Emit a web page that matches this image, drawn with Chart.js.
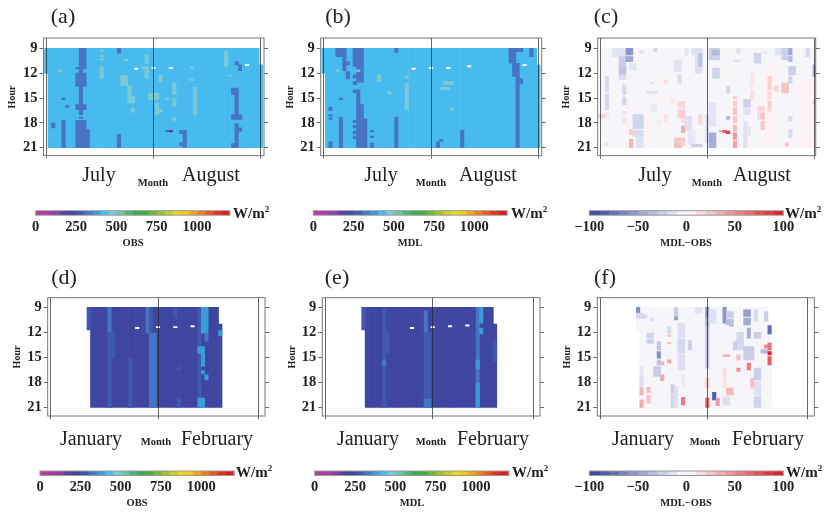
<!DOCTYPE html>
<html>
<head>
<meta charset="utf-8">
<title>Hourly radiation panels</title>
<script src="https://cdn.jsdelivr.net/npm/chart.js@4"></script>
<style>
  html, body { margin: 0; padding: 0; background: #fff; }
  #page { position: relative; width: 825px; height: 513px; overflow: hidden; font-family: "Liberation Serif", serif; color: #222; filter: blur(0.4px); }
  canvas { position: absolute; }
  .txt { position: absolute; white-space: nowrap; transform: translate(-50%, -50%); line-height: 1; }
  .paren { font-size: 22px; }
  .month { font-size: 20px; }
  .small { font-size: 10.5px; font-weight: bold; }
  .hour { font-size: 10px; font-weight: bold; transform: translate(-50%, -50%) rotate(-90deg); }
  .unit { font-size: 15px; font-weight: bold; transform: translate(0, -50%); }
  .unit sup { font-size: 9px; line-height: 0; }
</style>
</head>
<body>
<div id="page"></div>
<script>
// --- data ---
const hourTicks = [9, 12, 15, 18, 21];
const obsTicks = [0, 250, 500, 750, 1000];
const diffTicks = [-100, -50, 0, 50, 100];
const summerMonths = ['July', 'August'];
const winterMonths = ['January', 'February'];
const summerBounds = [0, 31, 62];
const winterBounds = [0, 31, 60];
const WHITE = null; // missing sample

// each cell block: [firstDay, lastDay, fromHour, toHour, value]
const julyObs = [
  [1, 61, 9, 21, 425], [0, 0, 9, 12, 425], [62, 62, 11, 21, 425],
  [10, 11, 9, 11.2, 325], [9, 11, 11.3, 11.5, 325], [9, 11, 12, 13.6, 325], [10, 10, 11.5, 12, 325],
  [10, 10, 13.6, 15.7, 325], [9, 11, 15.8, 16.4, 325], [10, 10, 16.4, 17, 325], [10, 10, 17.3, 17.5, 325],
  [9, 11, 17.7, 18.8, 325], [9, 12, 18.8, 21, 325],
  [5, 5, 17.7, 21, 325], [2, 2, 18, 18.6, 325], [5, 5, 15, 15.2, 325], [6, 6, 15.9, 16.1, 325],
  [21, 21, 9, 9.6, 325], [21, 21, 19.4, 21, 325],
  [16, 16, 11.2, 12.6, 475], [16, 16, 9.2, 9.4, 475], [16, 16, 9.8, 10, 475], [16, 16, 10.2, 10.4, 475],
  [22, 23, 12.3, 13.5, 475], [24, 24, 13.5, 14.8, 475], [24, 25, 14.8, 15.6, 475], [25, 25, 16.2, 16.7, 475],
  [29, 29, 9.8, 10.8, 475], [29, 29, 11.2, 12.6, 475], [28, 29, 11.2, 11.4, 475], [23, 23, 10.3, 10.5, 475],
  [30, 32, 14.4, 15.2, 475], [32, 32, 15.6, 17, 475], [33, 33, 16.4, 16.7, 475], [33, 33, 12.2, 13, 475],
  [37, 37, 13.2, 14.6, 475], [37, 37, 15, 16, 475], [35, 35, 15, 15.2, 475], [37, 37, 17.3, 17.7, 475],
  [43, 43, 13.7, 17, 475], [42, 42, 11.2, 11.4, 475], [42, 42, 12.7, 12.9, 475],
  [52, 52, 9.3, 11.2, 475], [53, 53, 12.2, 12.4, 475], [4, 4, 11.6, 11.8, 475],
  [26, 26, 11.4, 11.55, WHITE], [31, 31, 11.3, 11.45, WHITE], [36, 36, 11.3, 11.45, WHITE], [58, 58, 10.95, 11.1, WHITE],
  [39, 40, 18.9, 19.3, 325], [40, 40, 19.3, 21, 325], [39, 39, 20.4, 20.8, 325],
  [35, 35, 18.9, 19.1, 325], [36, 36, 18.9, 19.1, 175],
  [55, 55, 10.6, 11, 325], [56, 56, 11, 11.7, 325], [54, 55, 13.8, 14.6, 325], [55, 55, 14.6, 17, 325],
  [54, 56, 17, 17.6, 325], [55, 55, 18.1, 20.5, 325], [56, 56, 18.6, 19, 325], [54, 55, 20.5, 21, 325]
];
const julyMdl = [
  [1, 61, 9, 21, 425], [0, 0, 9, 12, 425], [62, 62, 11, 21, 425],
  [4, 6, 9, 10, 325], [6, 6, 10, 11.7, 325], [7, 7, 10.6, 11, 325], [7, 7, 11.8, 12.7, 325],
  [9, 11, 9, 11.2, 325], [10, 11, 11.2, 13.1, 325], [9, 10, 12.2, 12.6, 325], [9, 9, 13, 13.4, 325],
  [9, 10, 14.0, 14.4, 325], [10, 10, 14.4, 17.5, 325], [11, 11, 15.8, 17.4, 325],
  [10, 12, 17.5, 21, 325], [9, 9, 17.7, 18, 325], [9, 9, 18.3, 18.6, 325], [9, 9, 19, 19.3, 325], [9, 9, 19.6, 19.9, 325],
  [5, 5, 17.3, 21, 325], [5, 5, 15, 15.2, 325], [2, 2, 16.1, 16.5, 325], [2, 2, 20.3, 21, 325],
  [2, 2, 17, 17.2, 325], [2, 2, 17.4, 17.6, 325],
  [14, 14, 18.9, 19.1, 325], [14, 14, 19.6, 19.8, 325], [14, 14, 20.4, 21, 325],
  [21, 21, 9, 9.5, 325], [21, 21, 17.3, 21, 325],
  [33, 33, 20.3, 21, 325], [34, 34, 20, 20.2, 325], [40, 40, 18.9, 21, 325],
  [54, 57, 9, 9.4, 325], [54, 55, 9.4, 10.8, 325], [55, 56, 10.8, 12.4, 325], [56, 56, 12.4, 21, 325], [57, 57, 12.7, 13.3, 325],
  [60, 60, 9, 10, 325],
  [24, 24, 13.2, 16.4, 475], [24, 24, 12.3, 12.6, 475], [16, 16, 12.2, 13, 475], [19, 19, 14.2, 14.5, 475],
  [35, 37, 13, 13.4, 475], [34, 36, 13.7, 14, 475], [37, 37, 16.2, 16.5, 475],
  [26, 26, 11.4, 11.55, WHITE], [31, 31, 11.3, 11.45, WHITE], [36, 36, 11.3, 11.45, WHITE], [42, 42, 11.1, 11.25, WHITE],
  [58, 58, 10.95, 11.1, WHITE], [4, 4, 11.6, 11.8, 475], [10, 10, 11.6, 11.8, 475]
];
const julyDiff = [
  [1, 62, 9, 21, -5],
  [8, 8, 12, 21, 6], [14, 14, 15, 21, 5], [18, 18, 12, 21, 5], [38, 38, 9, 21, 5], [48, 50, 11, 21, 5], [58, 62, 13, 21, 5],
  [4, 7, 9, 10, -14], [6, 7, 10, 11.2, -26], [6, 7, 11.2, 12.2, -30], [6, 7, 12.2, 12.8, -18],
  [8, 9, 9, 9.8, -55], [8, 9, 10, 10.6, -45], [9, 10, 10.8, 11.6, -14], [12, 12, 9.2, 9.6, -15],
  [2, 2, 12.4, 14.2, -18], [2, 2, 14.5, 16.4, -20], [2, 2, 16.8, 17.2, -10],
  [7, 7, 13.4, 14.6, -20], [7, 7, 14.9, 15.8, -22], [7, 7, 16.6, 17, -12], [7, 7, 17.4, 18, -12],
  [10, 12, 17, 18.7, -22], [10, 12, 18.9, 19.6, -18], [11, 12, 19.6, 21, -15],
  [16, 16, 9, 9.4, -20], [15, 16, 15.8, 16.6, -10], [15, 15, 13.1, 13.3, -14], [14, 16, 14.2, 14.5, -14],
  [22, 23, 10.4, 11.8, -14], [23, 23, 12.2, 13.2, -18], [25, 25, 9, 9.8, -14],
  [25, 26, 17.2, 18.9, -16], [26, 27, 18.9, 20.6, -12],
  [28, 29, 9, 12, -16], [29, 29, 9.6, 11.2, -32], [27, 27, 9, 9.8, -15], [27, 29, 20.6, 20.9, -24],
  [31, 31, 17, 20.4, -18], [32, 33, 19.2, 21, -42], [32, 34, 9, 10.4, -24], [33, 34, 9.2, 9.8, -36],
  [33, 34, 11.4, 12.6, -22], [32, 33, 15.6, 18.4, -14],
  [37, 37, 13.6, 14.4, -20], [37, 37, 17.2, 17.6, -35], [40, 40, 9, 9.6, -15], [39, 40, 10.4, 10.6, -15],
  [42, 43, 15.2, 16.1, -24], [42, 43, 16.3, 17, -16], [42, 42, 17.8, 21, -15], [43, 43, 18.4, 19.6, -12],
  [45, 46, 9.6, 10.8, -22], [47, 48, 9.4, 9.6, -12], [50, 50, 13.8, 14, -12],
  [51, 52, 9, 9.8, -15], [53, 54, 9, 10.4, -24], [55, 55, 9, 9.8, -46], [55, 55, 10, 10.6, -36],
  [55, 56, 11.2, 12.2, -24], [55, 55, 12.4, 13.2, -22], [55, 55, 17.2, 17.8, -18], [55, 55, 18.8, 19.8, -18],
  [60, 60, 9, 10, -20], [62, 62, 11, 12.4, -40], [62, 62, 15.4, 15.7, -20],
  [9, 9, 18.8, 19.4, 22], [9, 9, 20, 21, 32], [1, 1, 17, 17.4, 20], [0, 0, 17, 17.4, 18], [2, 2, 20.4, 20.7, 14],
  [39, 39, 14.8, 15.1, 20], [39, 39, 15.4, 16, 22], [39, 39, 16.2, 17, 26], [39, 39, 17.2, 18, 24], [39, 39, 18.3, 19, 28],
  [39, 39, 19.2, 20, 44], [39, 39, 20.2, 21, 40],
  [23, 24, 15.4, 16.2, 16], [23, 24, 16.4, 17.4, 20], [24, 24, 17.5, 18, 16], [24, 24, 18.4, 19.2, 34],
  [22, 24, 19.8, 20.3, 24], [22, 23, 20.4, 21, 28], [24, 24, 20.2, 20.8, 18],
  [29, 29, 17, 18.2, 18], [19, 19, 12.8, 13.2, 15], [19, 19, 17, 17.8, 12], [21, 21, 15, 15.6, 10], [17, 17, 17.8, 18.2, 10],
  [49, 49, 12.4, 14, 20], [49, 49, 14.2, 15.2, 16], [49, 49, 15.4, 16.6, 20], [46, 46, 16, 17.6, 16], [47, 47, 16, 16.6, 18],
  [47, 47, 16.8, 17.6, 26], [47, 47, 17.8, 18.8, 24],
  [53, 54, 13.2, 14.4, 26], [51, 51, 13.6, 14.2, 20], [54, 54, 20.4, 20.8, 25], [44, 44, 12, 13.6, 12], [44, 44, 14, 15.2, 14],
  [35, 35, 18.9, 19.1, 40], [36, 36, 18.9, 19.2, 70], [37, 37, 19, 19.3, 85]
];
const janObs = [
  [12, 48, 9, 21, 225], [11, 11, 9, 11.7, 260], [49, 49, 11, 21, 225],
  [17, 17, 9, 12, 320], [17, 17, 12, 21, 280], [18, 18, 12, 15.1, 270],
  [28, 28, 9, 12.1, 310], [29, 30, 12.1, 21, 300], [29, 29, 9, 12.1, 270],
  [23, 23, 15.1, 21, 265], [36, 36, 9, 10.3, 265], [37, 37, 16.2, 16.5, 265], [37, 37, 19.9, 21, 265],
  [43, 43, 9, 21, 275], [44, 45, 9, 12.1, 380], [45, 45, 12.1, 13.1, 300],
  [43, 44, 13.7, 14.5, 380], [44, 44, 14.5, 16.1, 375], [44, 44, 16.6, 17, 380], [45, 45, 17.1, 17.7, 380],
  [43, 44, 19.9, 21, 375], [49, 49, 11.8, 12.4, 390],
  [25, 25, 11.4, 11.55, WHITE], [31, 31, 11.3, 11.45, WHITE], [36, 36, 11.3, 11.45, WHITE], [41, 41, 11.2, 11.35, WHITE]
];
const janMdl = [
  [12, 48, 9, 21, 225], [11, 11, 9, 11.7, 260], [49, 49, 11, 21, 225],
  [17, 17, 9, 21, 280], [17, 17, 15.3, 16, 320], [18, 18, 11.9, 14.5, 270],
  [29, 29, 9.4, 12, 320], [29, 30, 12, 21, 290], [29, 30, 20, 21, 320],
  [44, 44, 9, 21, 310], [45, 45, 9, 10.9, 370], [44, 44, 15.3, 16.4, 370], [44, 44, 18.1, 21, 370], [45, 45, 11.5, 12.2, 370],
  [49, 49, 13, 15.5, 270],
  [25, 25, 11.4, 11.55, WHITE], [31, 31, 11.3, 11.45, WHITE], [36, 36, 11.2, 11.35, WHITE], [41, 41, 11.1, 11.25, WHITE]
];
const janDiff = [
  [12, 48, 9, 21, -5], [11, 11, 9, 11.7, -5], [49, 49, 11, 21, -5],
  [11, 11, 9, 9.7, -60], [11, 12, 9.7, 10.3, -20], [12, 12, 16.1, 17, -14], [12, 12, 17.2, 18.7, -16],
  [14, 15, 12.1, 12.7, -22], [14, 15, 12.9, 13.3, -26], [17, 17, 13.1, 14.1, -30], [17, 17, 14.3, 15.1, -58], [17, 17, 15.3, 15.9, -30],
  [16, 17, 16.1, 17.3, -26], [13, 13, 9.9, 10.3, -18], [15, 15, 10.2, 10.6, -14],
  [21, 21, 18.3, 19.3, -26], [21, 21, 19.5, 21, -22], [22, 22, 9, 10, -26], [22, 22, 10.1, 10.5, -50], [20, 20, 11.3, 12.1, -20],
  [23, 24, 10.9, 12.6, -16], [23, 24, 12.8, 14.5, -20], [23, 24, 14.7, 16.5, -16], [22, 22, 18.5, 21, -16], [24, 24, 17, 18.5, -10],
  [26, 26, 13, 14.1, -25], [28, 29, 9, 9.7, -15],
  [31, 31, 9, 10.2, -55], [31, 31, 10.2, 11.3, -42], [31, 31, 11.3, 16.3, -30], [32, 33, 9.3, 10.9, -15],
  [33, 33, 19.2, 20.1, -85], [36, 36, 9, 10.9, -55], [37, 38, 9.5, 10.2, -26], [37, 38, 10.4, 11.1, -34], [38, 38, 10.7, 11.3, -35],
  [40, 41, 12, 14.1, -20], [39, 39, 13.1, 14.1, -25], [42, 43, 9.3, 10.1, -50], [42, 43, 10.3, 11.1, -44], [43, 43, 11.5, 12.7, -42],
  [42, 44, 13.7, 15.3, -26], [45, 46, 16.3, 17.7, -24], [45, 46, 17.9, 19.5, -16], [45, 46, 19.7, 21, -22],
  [45, 45, 9.3, 10.7, -18], [45, 46, 12, 12.7, -25],
  [48, 48, 9.5, 10.7, -25], [47, 48, 14.1, 14.5, -35], [49, 49, 11.2, 12.2, -75], [36, 37, 19.7, 20.7, -16],
  [12, 12, 18.7, 19.5, 32], [12, 12, 20.1, 21, 36], [14, 14, 18.6, 19.2, 30], [14, 14, 19.5, 20.5, 26],
  [18, 18, 15.5, 15.9, 32], [18, 18, 17.1, 17.8, 38], [20, 20, 15.3, 15.7, 38], [20, 20, 12.3, 12.5, 26], [20, 20, 13.2, 13.4, 26],
  [24, 24, 19.8, 20.7, 58], [31, 31, 17.5, 18.7, 20], [31, 31, 19.9, 21, 65], [34, 34, 19.9, 20.8, 42],
  [36, 36, 16.3, 17.4, 14], [36, 36, 17.6, 18.7, 12], [37, 38, 18.7, 19.5, 30], [36, 37, 14.7, 14.9, 36],
  [40, 40, 16.3, 16.7, 46], [40, 40, 14.7, 15.3, 28], [43, 43, 15.7, 16.5, 56], [44, 44, 17.5, 18.7, 26],
  [49, 49, 13.3, 14.1, 60], [49, 49, 14.3, 14.7, 95], [49, 49, 14.9, 15.9, 70], [48, 48, 13.5, 13.9, 50]
];

const obsLevels = [0, 50, 100, 150, 200, 250, 300, 350, 400, 450, 500, 550, 600, 650, 700, 750, 800, 850, 900, 950, 1000, 1050, 1100, 1150];
const diffLevels = [-100, -90, -80, -70, -60, -50, -40, -30, -20, -10, 0, 10, 20, 30, 40, 50, 60, 70, 80, 90];

// --- colours ---
const obsPalette = ['#b8399e', '#a63ca6', '#8c3fa8', '#5d3fa2', '#3f46a2', '#3e59ae', '#4774c4', '#3a9cdc',
  '#47bbee', '#7cc9d6', '#6cc3a8', '#4fb478', '#3daa55', '#46ae3e', '#70b838', '#9cc232',
  '#c8cc2c', '#ecd820', '#f5c818', '#f3a41c', '#ef7d1f', '#ea5522', '#e33022', '#dd1a20'];

function obsColor(v) {
  if (v === null) return '#fff';
  return obsPalette[Math.min(23, Math.floor(v / 50))];
}
function diffColor(v) {
  if (v === null) return '#fff';
  const end = v < 0 ? [47, 63, 159] : [224, 20, 30];
  const t = Math.min(1, Math.abs(v) / 100);
  return 'rgb(' + end.map(c => Math.round(255 + (c - 255) * t)).join(',') + ')';
}

// --- drawing helpers ---
const page = document.getElementById('page');
const tickFont = { family: 'Liberation Serif', size: 14.5, weight: 'bold' };

const framePlugin = {
  id: 'frame',
  afterDraw(chart) {
    const a = chart.chartArea, ctx = chart.ctx;
    ctx.save();
    ctx.strokeStyle = chart.options.plugins.frame.color;
    ctx.lineWidth = 1;
    ctx.strokeRect(a.left, a.top, a.right - a.left, a.bottom - a.top);
    ctx.restore();
  }
};

function addCanvas(left, top, width, height) {
  const c = document.createElement('canvas');
  c.width = width;
  c.height = height;
  c.style.left = left + 'px';
  c.style.top = top + 'px';
  page.appendChild(c);
  return c;
}

function addText(cls, x, y, html) {
  const d = document.createElement('div');
  d.className = 'txt ' + cls;
  d.style.left = x + 'px';
  d.style.top = y + 'px';
  d.innerHTML = html;
  page.appendChild(d);
}

function heatmap(p) {
  const left = Math.floor(p.l) - 38, top = Math.floor(p.t) - 12;
  const right = Math.ceil(p.r) + 9, bottom = Math.ceil(p.b) + 12;
  const dayW = (p.v1 - p.v0) / 31;
  const hourH = (p.h21 - p.h9) / 12;
  // chart.js paints the first dataset last, so the blocks go in reversed
  const datasets = p.cells.map(c => {
    const data = [];
    for (let d = c[0]; d <= c[1]; d++) data.push({ x: d, y: [c[2], c[3]] });
    return { data: data, backgroundColor: p.color(c[4]), borderWidth: 0, grouped: false, barPercentage: 1, categoryPercentage: 1 };
  }).reverse();
  const yAxis = (pos, width, labels) => ({
    type: 'linear', position: pos, reverse: true,
    min: 9 - (p.h9 - p.t) / hourH, max: 21 + (p.b - p.h21) / hourH,
    afterBuildTicks(s) { s.ticks = hourTicks.map(v => ({ value: v })); },
    afterFit(s) { s.width = width; },
    grid: { drawOnChartArea: false, color: '#666', tickLength: 4 },
    border: { display: false },
    ticks: { display: labels, font: tickFont, color: '#222', padding: 2 }
  });
  new Chart(addCanvas(left, top, right - left, bottom - top), {
    type: 'bar',
    data: { datasets: datasets },
    plugins: [framePlugin],
    options: {
      responsive: false,
      animation: false,
      layout: { padding: { top: p.t - top, right: right - p.r, left: 0, bottom: 0 } },
      plugins: { legend: { display: false }, tooltip: { enabled: false }, frame: { color: '#777' } },
      scales: {
        x: {
          type: 'linear', offset: false,
          min: (p.l - p.v0) / dayW, max: (p.r - p.v0) / dayW,
          afterBuildTicks(s) { s.ticks = p.bounds.map(v => ({ value: v })); },
          afterFit(s) { s.height = bottom - p.b; },
          grid: { offset: false, z: 1, color: 'rgba(35,35,35,0.7)', tickLength: 3 },
          border: { display: false },
          ticks: { display: false }
        },
        y: yAxis('left', p.l - left, true),
        y2: yAxis('right', 0, false)
      }
    }
  });
}

function colorbar(b) {
  const pad = 24;
  const left = Math.floor(b.l) - pad, right = Math.ceil(b.r) + pad;
  const top = Math.floor(b.t) - 1, height = 26;
  const step = b.levels[1] - b.levels[0];
  const datasets = b.levels.map(v => ({
    data: [[v, v + step]],
    backgroundColor: b.color(v + step / 2),
    borderWidth: 0, grouped: false, barPercentage: 1, categoryPercentage: 1
  }));
  new Chart(addCanvas(left, top, right - left, height), {
    type: 'bar',
    data: { labels: [''], datasets: datasets },
    plugins: [framePlugin],
    options: {
      indexAxis: 'y',
      responsive: false,
      animation: false,
      layout: { padding: { left: b.l - left, right: right - b.r, top: b.t - top, bottom: 0 } },
      plugins: { legend: { display: false }, tooltip: { enabled: false }, frame: { color: '#999' } },
      scales: {
        y: { display: false, offset: true },
        x: {
          type: 'linear', min: b.min, max: b.max,
          afterBuildTicks(s) { s.ticks = b.ticks.map(v => ({ value: v })); },
          afterFit(s) { s.height = height - (b.t - top) - (b.b - b.t); },
          grid: { display: false, drawTicks: false },
          border: { display: false },
          ticks: {
            font: tickFont, color: '#222', padding: 3, maxRotation: 0, autoSkip: false,
            callback: v => String(v).replace('-', '\u2212')
          }
        }
      }
    }
  });
}

// --- the six panels ---
const topRow = { t: 38, b: 155.6, h9: 48.3, h21: 147.7 };
const lowRow = { t: 297.7, b: 416, h9: 307.3, h21: 407.3 };

const panels = [
  { tag: '(a)', cells: julyObs, row: topRow, l: 43.5, r: 264, v0: 46.3, v1: 153.6, bounds: summerBounds, months: summerMonths,
    tagX: 63, m1: 99, mid: 153, m2: 211, hourX: 12, barL: 35.7, barR: 230, unitX: 233, capX: 133, cap: 'OBS' },
  { tag: '(b)', cells: julyMdl, row: topRow, l: 320.7, r: 541.7, v0: 323.6, v1: 431, bounds: summerBounds, months: summerMonths,
    tagX: 338, m1: 381, mid: 431, m2: 488, hourX: 290, barL: 313.3, barR: 507.3, unitX: 511, capX: 410, cap: 'MDL' },
  { tag: '(c)', cells: julyDiff, row: topRow, l: 597.7, r: 815.7, v0: 600, v1: 707.3, bounds: summerBounds, months: summerMonths,
    tagX: 606, m1: 655, mid: 707, m2: 762, hourX: 566, barL: 589.3, barR: 783.3, unitX: 785, capX: 686, cap: 'MDL\u2212OBS', diff: true },
  { tag: '(d)', cells: janObs, row: lowRow, l: 47.7, r: 265, v0: 50.7, v1: 158, bounds: winterBounds, months: winterMonths,
    tagX: 64, m1: 91, mid: 156, m2: 217, hourX: 17, barL: 40, barR: 234.3, unitX: 236, capX: 137, cap: 'OBS' },
  { tag: '(e)', cells: janMdl, row: lowRow, l: 322.3, r: 540, v0: 325.3, v1: 432.7, bounds: winterBounds, months: winterMonths,
    tagX: 337, m1: 368, mid: 431, m2: 493, hourX: 292, barL: 314.7, barR: 509, unitX: 512, capX: 412, cap: 'MDL' },
  { tag: '(f)', cells: janDiff, row: lowRow, l: 597.3, r: 814.3, v0: 600, v1: 707.3, bounds: winterBounds, months: winterMonths,
    tagX: 605, m1: 643, mid: 705, m2: 768, hourX: 567, barL: 589.3, barR: 783.3, unitX: 786, capX: 686, cap: 'MDL\u2212OBS', diff: true }
];

panels.forEach(p => {
  const top = p.row === topRow;
  const color = p.diff ? diffColor : obsColor;
  heatmap({ l: p.l, r: p.r, t: p.row.t, b: p.row.b, h9: p.row.h9, h21: p.row.h21, v0: p.v0, v1: p.v1, bounds: p.bounds, cells: p.cells, color: color });
  const barT = top ? 210.7 : 471;
  colorbar({
    l: p.barL, r: p.barR, t: barT, b: barT + 4.5, color: color,
    levels: p.diff ? diffLevels : obsLevels,
    ticks: p.diff ? diffTicks : obsTicks,
    min: p.diff ? -100 : 0, max: p.diff ? 100 : 1205
  });
  addText('paren', p.tagX, top ? 16 : 276.5, p.tag);
  addText('month', p.m1, top ? 174 : 437.5, p.months[0]);
  addText('month', p.m2, top ? 174 : 437.5, p.months[1]);
  addText('small', p.mid, top ? 182.7 : 442.3, 'Month');
  addText('hour', p.hourX, top ? 97 : 356.7, 'Hour');
  addText('unit', p.unitX, top ? 212.5 : 471.5, 'W/m<sup>2</sup>');
  addText('small', p.capX, top ? 243 : 503.3, p.cap);
});
</script>
</body>
</html>
